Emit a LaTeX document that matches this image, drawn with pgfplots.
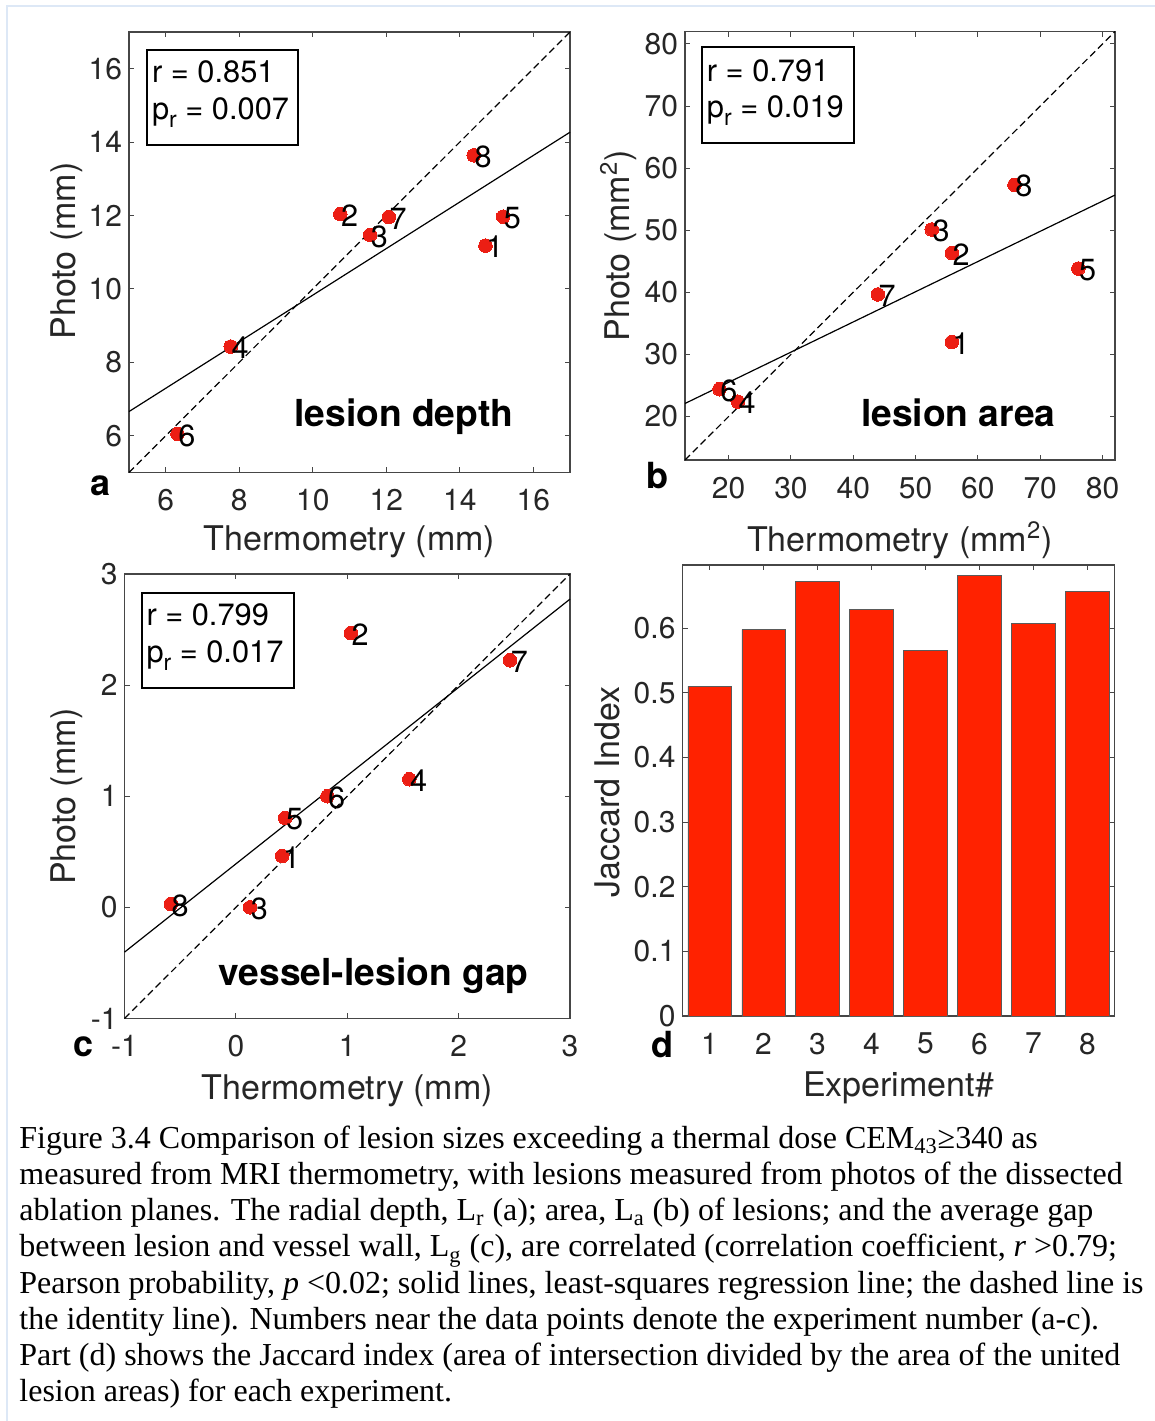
\documentclass[border=0pt]{standalone}
\usepackage{fontspec}
\usepackage{pgfplots}
\pgfplotsset{compat=1.18}
\setmainfont{TeX Gyre Heros}
\newfontfamily\capfont{Liberation Serif}
\definecolor{axgray}{RGB}{38,38,38}
\definecolor{axline}{RGB}{70,70,70}
\definecolor{mred}{RGB}{236,30,20}
\definecolor{bred}{RGB}{255,34,0}
\definecolor{baredge}{RGB}{90,90,90}
\definecolor{frameblue}{RGB}{221,232,246}
\newcommand{\subr}{\raisebox{-4pt}{\fontsize{11.5}{12}\selectfont r}}
\tikzset{tag/.style={font=\bfseries\fontsize{18.6}{20}\selectfont, text=black, inner sep=0pt}}
\pgfplotsset{
  panel/.style={
    scale only axis, clip=false,
    axis line style={draw=axline, line width=0.6pt},
    tick style={draw=axline, line width=0.5pt},
    tick align=inside, major tick length=2.6pt,
    ticklabel style={font=\fontsize{15}{18}\selectfont, text=axgray},
    xticklabel style={yshift=-5pt},
    label style={font=\fontsize{17}{20}\selectfont, text=axgray},
    /pgf/number format/assume math mode=true,
    xlabel style={anchor=base},
    ylabel style={anchor=base},
  },
  scat/.style={only marks, mark=*, mark size=3.4pt, color=mred, mark options={fill=mred, draw=mred, line width=0pt},
    nodes near coords, point meta=explicit symbolic,
    every node near coord/.append style={anchor=west, inner sep=0pt, xshift=0.4pt, yshift=-0.75pt, font=\fontsize{15.3}{18}\selectfont, text=black}},
  reg/.style={black, line width=0.6pt},
  ident/.style={black, line width=0.6pt, dash pattern=on 3.5pt off 2pt},
}
\begin{document}
\begin{tikzpicture}
\useasboundingbox (0,0) rectangle (577.5pt,710.5pt);
\fill[white] (0,0) rectangle (577.5pt,710.5pt);
\draw[frameblue, line width=1pt] (3.5pt,0) -- (3.5pt,707.5pt) -- (577.5pt,707.5pt);

% ---------------- panel a ----------------
\begin{axis}[panel, at={(64.5pt,474.25pt)}, anchor=south west, width=220.5pt, height=220.25pt,
  xmin=5, xmax=17, ymin=5, ymax=17, xtick={6,8,...,16}, ytick={6,8,...,16},
  xlabel={Thermometry (mm)}, ylabel={Photo (mm)},
  xlabel style={at={(axis description cs:0.5,-0.1782)}},
  ylabel style={at={(axis description cs:-0.1202,0.503)}}]
\addplot[ident] coordinates {(5,5) (17,17)};
\addplot[reg] coordinates {(5,6.66) (17,14.27)};
\addplot[scat] table[meta=n] {
x y n
14.70 11.18 1
10.75 12.04 2
11.56 11.47 3
7.77 8.43 4
15.18 11.97 5
6.32 6.05 6
12.07 11.96 7
14.38 13.64 8
};
\node[tag] at (axis cs:12.48,6.51) {lesion depth};
\end{axis}

% ---------------- panel b ----------------
\begin{axis}[panel, at={(342.5pt,480.5pt)}, anchor=south west, width=215pt, height=214.25pt,
  xmin=13, xmax=82, ymin=13, ymax=82, xtick={20,30,...,80}, ytick={20,30,...,80},
  xlabel={Thermometry (mm\textsuperscript{2})}, ylabel={Photo (mm\textsuperscript{2})},
  xlabel style={at={(axis description cs:0.5,-0.2124)}},
  ylabel style={at={(axis description cs:-0.129,0.5)}}]
\addplot[ident] coordinates {(13,13) (82,82)};
\addplot[reg] coordinates {(13,22.1) (82,55.66)};
\addplot[scat] table[meta=n] {
x y n
55.82 32.00 1
55.82 46.34 2
52.59 50.11 3
21.47 22.40 4
76.12 43.83 5
18.53 24.40 6
43.94 39.66 7
65.88 57.31 8
};
\node[tag] at (axis cs:56.86,20.65) {lesion area};
\end{axis}

% ---------------- panel c ----------------
\begin{axis}[panel, at={(62.25pt,201.25pt)}, anchor=south west, width=222.75pt, height=222.25pt,
  xmin=-1, xmax=3, ymin=-1, ymax=3, xtick={-1,0,1,2,3}, ytick={-1,0,1,2,3},
  xlabel={Thermometry (mm)}, ylabel={Photo (mm)},
  xlabel style={at={(axis description cs:0.5,-0.1811)}},
  ylabel style={at={(axis description cs:-0.1089,0.5)}}]
\addplot[ident] coordinates {(-1,-1) (3,3)};
\addplot[reg] coordinates {(-1,-0.403) (3,2.774)};
\addplot[scat] table[meta=n] {
x y n
0.416 0.463 1
1.032 2.468 2
0.127 0.000 3
1.557 1.153 4
0.443 0.804 5
0.822 1.000 6
2.461 2.224 7
-0.584 0.030 8
};
\node[tag] at (axis cs:1.2365,-0.616) {vessel-lesion gap};
\end{axis}

% ---------------- panel d ----------------
\begin{axis}[panel, at={(341.25pt,202.5pt)}, anchor=south west, width=216pt, height=225.5pt,
  xmin=0.5, xmax=8.5, ymin=0, ymax=0.698, xtick={1,2,...,8}, ytick={0,0.1,0.2,0.3,0.4,0.5,0.6},
  yticklabel style={/pgf/number format/fixed, /pgf/number format/precision=1},
  bar width=0.8,
  xlabel={Experiment\#}, ylabel={Jaccard Index},
  xlabel style={at={(axis description cs:0.5,-0.1774)}},
  ylabel style={at={(axis description cs:-0.1447,0.497)}}]
\addplot[ybar, fill=bred, draw=baredge, line width=0.4pt] coordinates {
(1,0.510) (2,0.598) (3,0.673) (4,0.629) (5,0.5655) (6,0.6816) (7,0.608) (8,0.6576)};
\end{axis}

% ---------------- overlay text in pixel coordinates ----------------
\begin{scope}[x=0.5pt, y=-0.5pt, yshift=710.5pt]
  % stat boxes
  \draw[black, line width=1pt] (147.2,50) rectangle (298.2,145.4);
  \draw[black, line width=1pt] (702.1,47.3) rectangle (853.6,143);
  \draw[black, line width=1pt] (142.4,592.6) rectangle (294.1,688.2);
  \begin{scope}[every node/.style={anchor=base west, inner sep=0pt, font=\fontsize{15.4}{18}\selectfont}]
    \node at (151.7,82.9) {r = 0.851};
    \node at (151.7,119.6) {p\subr{} = 0.007};
    \node at (706.5,81.1) {r = 0.791};
    \node at (706.5,117.4) {p\subr{} = 0.019};
    \node at (146.1,625.3) {r = 0.799};
    \node at (146.1,663) {p\subr{} = 0.017};
  \end{scope}
  % panel letters
  \begin{scope}[every node/.style={anchor=base, inner sep=0pt, font=\bfseries\fontsize{18}{20}\selectfont}]
    \node at (101,496) {a};
    \node at (657.5,489) {b};
    \node at (84,1057) {c};
    \node at (662.5,1058) {d};
  \end{scope}
  % caption
  \begin{scope}[every node/.style={anchor=base west, inner sep=0pt, font=\capfont\fontsize{16}{18}\selectfont}]
    \node at (19,1148.3) {Figure 3.4 Comparison of lesion sizes exceeding a thermal dose CEM\textsubscript{43}≥340 as};
    \node at (19,1184.5) {measured from MRI thermometry, with lesions measured from photos of the dissected};
    \node at (19,1220.7) {ablation planes. The radial depth, L\textsubscript{r} (a); area, L\textsubscript{a} (b) of lesions; and the average gap};
    \node at (19,1256.9) {between lesion and vessel wall, L\textsubscript{g} (c), are correlated (correlation coefficient, \textit{r} >0.79;};
    \node at (19,1293.1) {Pearson probability, \textit{p} <0.02; solid lines, least-squares regression line; the dashed line is};
    \node at (19,1329.3) {the identity line). Numbers near the data points denote the experiment number (a-c).};
    \node at (19,1365.5) {Part (d) shows the Jaccard index (area of intersection divided by the area of the united};
    \node at (19,1401.7) {lesion areas) for each experiment.};
  \end{scope}
\end{scope}
\end{tikzpicture}
\end{document}
